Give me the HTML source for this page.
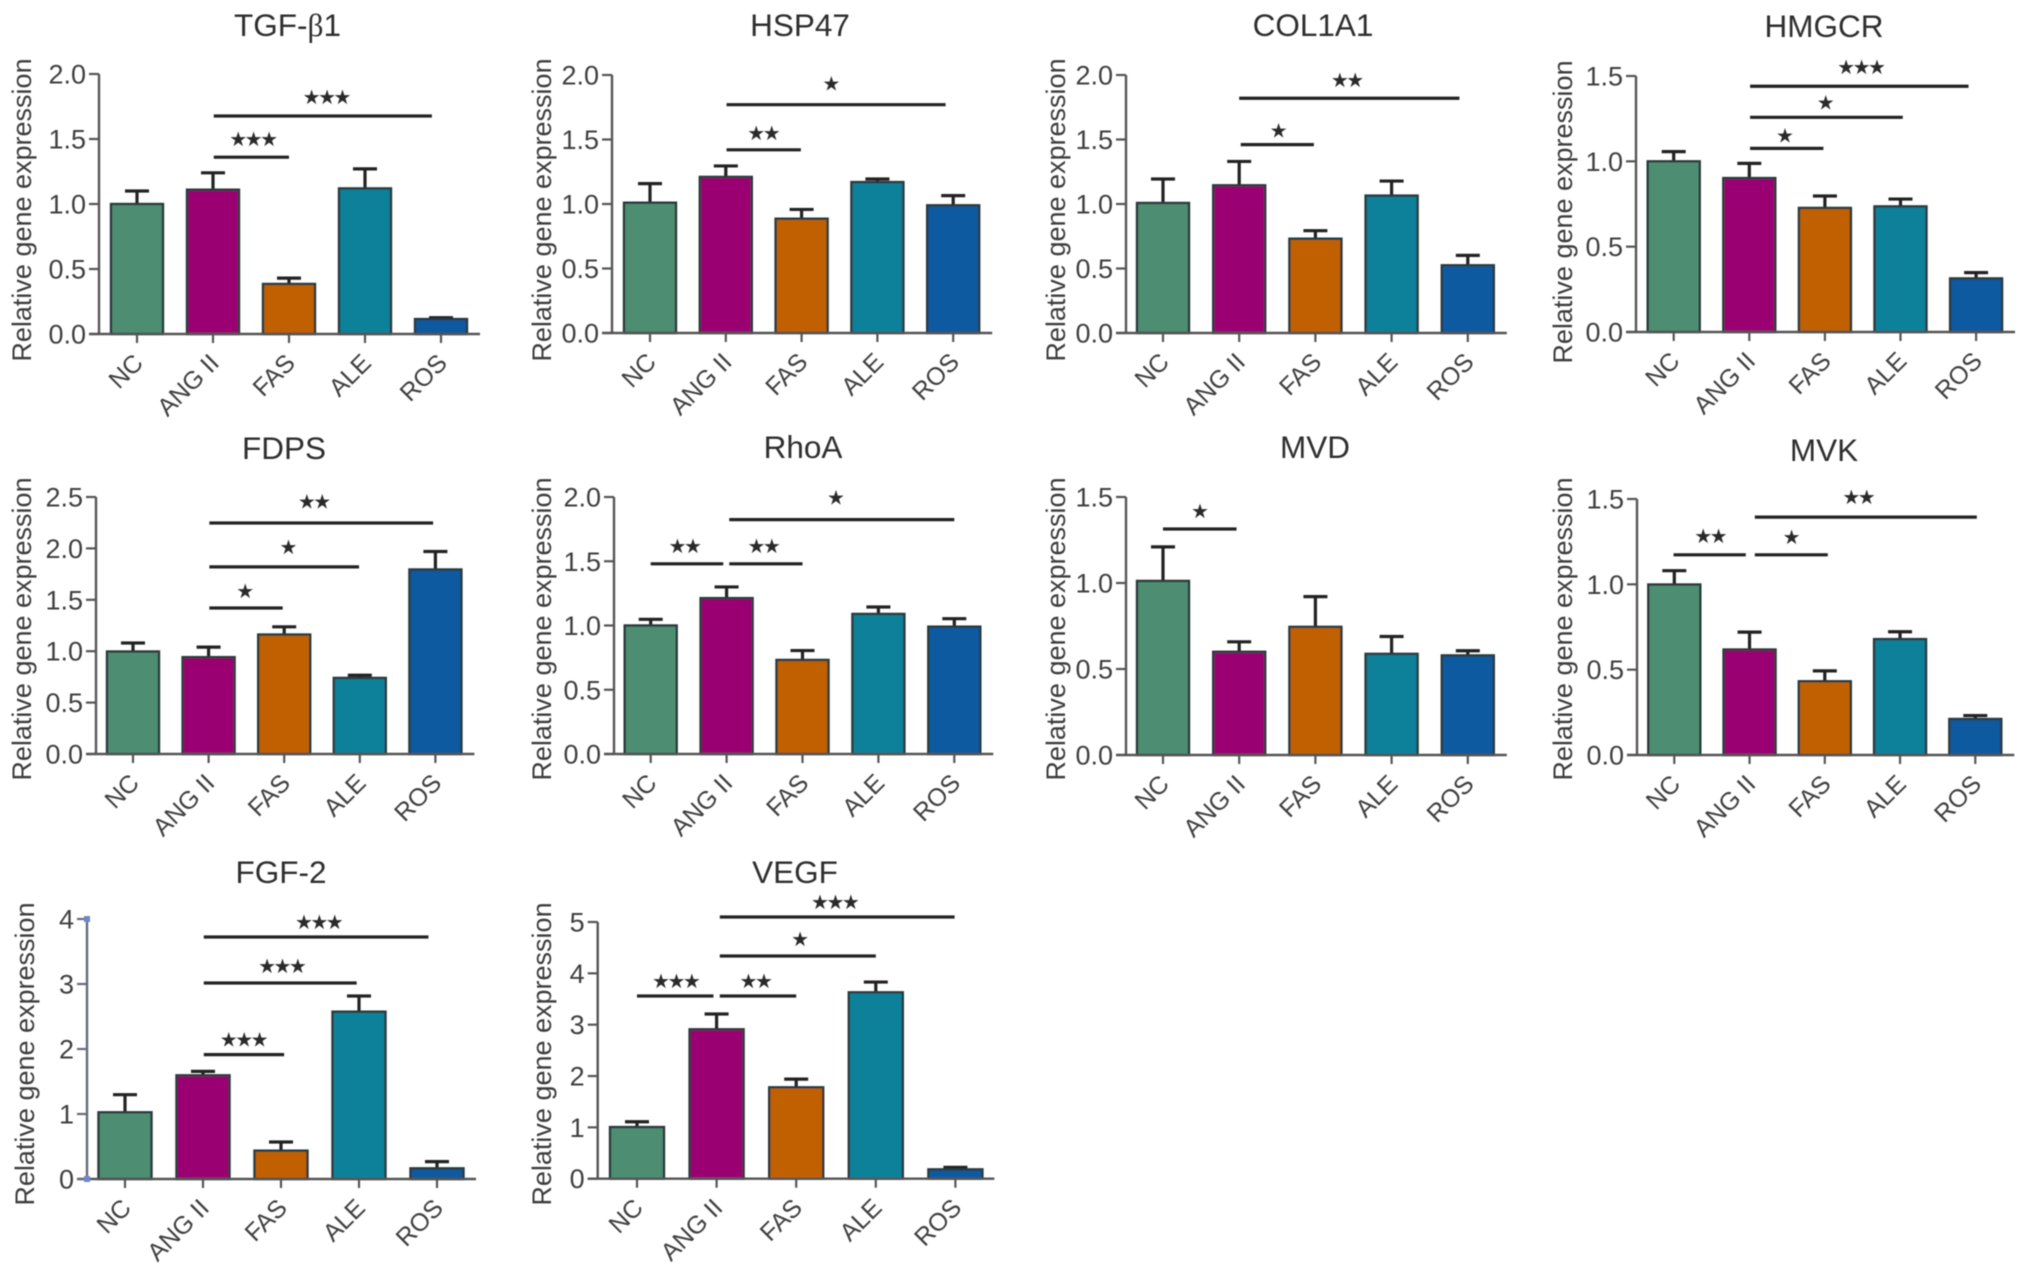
<!DOCTYPE html>
<html lang="en">
<head>
<meta charset="utf-8">
<title>Relative gene expression panels</title>
<style>
html,body{margin:0;padding:0;background:#fff;}
svg{display:block;}
text{font-family:"Liberation Sans",Arial,sans-serif;}
</style>
</head>
<body>
<svg id="figure" xmlns="http://www.w3.org/2000/svg" width="2031" height="1274" viewBox="0 0 2031 1274">
<defs><filter id="soft" x="0" y="0" width="100%" height="100%"><feGaussianBlur stdDeviation="0.55"/></filter></defs>
<rect x="0" y="0" width="2031" height="1274" fill="#fff"/>
<g id="root" filter="url(#soft)"></g>
</svg>
<script>
const categories = ['NC', 'ANG II', 'FAS', 'ALE', 'ROS'];
const ticks2 = ['0.0', '0.5', '1.0', '1.5', '2.0'];
const ticks15 = ['0.0', '0.5', '1.0', '1.5'];
const ticks25 = ['0.0', '0.5', '1.0', '1.5', '2.0', '2.5'];
const ticks4 = ['0', '1', '2', '3', '4'];
const ticks5 = ['0', '1', '2', '3', '4', '5'];

const tgfValues = [1.0, 1.11, 0.385, 1.12, 0.115];
const tgfErrors = [1.10, 1.24, 0.43, 1.27, 0.125];
const tgfBrackets = [[1.01, 2.0, 1.36, 3], [1.01, 3.88, 1.677, 3]];

const hspValues = [1.01, 1.21, 0.886, 1.17, 0.99];
const hspErrors = [1.158, 1.295, 0.958, 1.194, 1.065];
const hspBrackets = [[1.01, 1.99, 1.42, 2], [1.01, 3.9, 1.77, 1]];

const colValues = [1.008, 1.145, 0.731, 1.065, 0.525];
const colErrors = [1.194, 1.33, 0.793, 1.178, 0.602];
const colBrackets = [[1.02, 1.98, 1.46, 1], [1.0, 3.89, 1.82, 2]];

const hmgValues = [1.0, 0.902, 0.727, 0.736, 0.314];
const hmgErrors = [1.057, 0.988, 0.797, 0.779, 0.348];
const hmgBrackets = [[1.01, 1.98, 1.076, 1], [1.01, 3.03, 1.258, 1], [1.01, 3.9, 1.44, 3]];

const fdpValues = [0.997, 0.942, 1.162, 0.74, 1.795];
const fdpErrors = [1.08, 1.04, 1.237, 0.766, 1.97];
const fdpBrackets = [[1.01, 1.98, 1.42, 1], [1.01, 2.99, 1.82, 1], [1.01, 3.97, 2.247, 2]];

const rhoValues = [1.0, 1.213, 0.732, 1.09, 0.991];
const rhoErrors = [1.048, 1.30, 0.805, 1.144, 1.053];
const rhoBrackets = [[0, 0.956, 1.48, 2], [1.035, 2.0, 1.48, 2], [1.035, 4.0, 1.824, 1]];

const mvdValues = [1.012, 0.6, 0.745, 0.588, 0.579];
const mvdErrors = [1.21, 0.658, 0.921, 0.689, 0.606];
const mvdBrackets = [[0, 0.965, 1.314, 1]];

const mvkValues = [0.999, 0.618, 0.432, 0.679, 0.211];
const mvkErrors = [1.08, 0.72, 0.493, 0.722, 0.231];
const mvkBrackets = [[-0.01, 0.95, 1.173, 2], [1.07, 2.04, 1.173, 1], [1.07, 4.02, 1.394, 2]];

const fgfValues = [1.026, 1.595, 0.436, 2.574, 0.164];
const fgfErrors = [1.297, 1.656, 0.569, 2.815, 0.267];
const fgfBrackets = [[1.01, 2.04, 1.913, 3], [1.01, 2.97, 3.015, 3], [1.01, 3.89, 3.723, 3]];

const vegValues = [1.006, 2.91, 1.78, 3.63, 0.182];
const vegErrors = [1.11, 3.208, 1.94, 3.83, 0.22];
const vegBrackets = [[0, 0.96, 3.558, 3], [1.04, 2.0, 3.558, 2], [1.04, 3.0, 4.338, 1], [1.04, 3.99, 5.097, 3]];

const barColors = ['#4e8e73', '#9b0072', '#c06000', '#07809a', '#0a5aa0'];
const NS = 'http://www.w3.org/2000/svg';

const panels = [
  {title:'TGF-β1', values:tgfValues, errors:tgfErrors, brackets:tgfBrackets, ticks:ticks2, axisX:99, top:74, bottom:334, x0:137, step:76, barW:52, titleX:287.5, titleY:36, yTitleX:31, yTitleY:210, nudge:[[2,18],[4,19]]},
  {title:'HSP47', values:hspValues, errors:hspErrors, brackets:hspBrackets, ticks:ticks2, axisX:612, top:75, bottom:333, x0:650, step:75.8, barW:52, titleX:800, titleY:36, yTitleX:551, yTitleY:210, nudge:[[0,17],[-5,21]]},
  {title:'COL1A1', values:colValues, errors:colErrors, brackets:colBrackets, ticks:ticks2, axisX:1126, top:75, bottom:333, x0:1163, step:76.2, barW:52, titleX:1313, titleY:36, yTitleX:1065, yTitleY:210, nudge:[[1,14],[-2,18]]},
  {title:'HMGCR', values:hmgValues, errors:hmgErrors, brackets:hmgBrackets, ticks:ticks15, axisX:1636, top:76, bottom:332, x0:1673.7, step:75.6, barW:52, titleX:1824, titleY:37, yTitleX:1572, yTitleY:212, nudge:[[-2,13],[-1,15],[2,19]]},
  {title:'FDPS', values:fdpValues, errors:fdpErrors, brackets:fdpBrackets, ticks:ticks25, axisX:96, top:497, bottom:754, x0:133, step:75.6, barW:52, titleX:284, titleY:459, yTitleX:31, yTitleY:629, nudge:[[-1,17],[4,20],[-7,21.7]]},
  {title:'RhoA', values:rhoValues, errors:rhoErrors, brackets:rhoBrackets, ticks:ticks2, axisX:614, top:497, bottom:754, x0:650.7, step:75.9, barW:52, titleX:803, titleY:458, yTitleX:551, yTitleY:629, nudge:[[-2,18],[-2,18],[-6,22]]},
  {title:'MVD', values:mvdValues, errors:mvdErrors, brackets:mvdBrackets, ticks:ticks15, axisX:1126, top:497, bottom:755, x0:1163, step:76.2, barW:52, titleX:1315, titleY:458, yTitleX:1065, yTitleY:629, nudge:[[0,18]]},
  {title:'MVK', values:mvkValues, errors:mvkErrors, brackets:mvkBrackets, ticks:ticks15, axisX:1637, top:499, bottom:755, x0:1674.3, step:75.25, barW:52, titleX:1824, titleY:461, yTitleX:1572, yTitleY:629, nudge:[[1,19],[0,18],[-7,20]]},
  {title:'FGF-2', values:fgfValues, errors:fgfErrors, brackets:fgfBrackets, ticks:ticks4, axisX:87, top:919, bottom:1179, x0:125, step:78, barW:53, titleX:281, titleY:883, yTitleX:34, yTitleY:1054, nudge:[[0,15],[2,17],[3,15]], blueAxis:true},
  {title:'VEGF', values:vegValues, errors:vegErrors, brackets:vegBrackets, ticks:ticks5, axisX:597.7, top:922, bottom:1178.7, x0:637, step:79.6, barW:54, titleX:795, titleY:883, yTitleX:551, yTitleY:1054, nudge:[[1,15],[-2,15],[2,17],[-2,15]]}
];

function svgEl(tag, parent) {
  const el = document.createElementNS(NS, tag);
  parent.appendChild(el);
  return el;
}
function setAttrs(el, attrs) {
  for (const k in attrs) el.setAttribute(k, attrs[k]);
}

function drawPanel(p, root) {
  const maxTick = parseFloat(p.ticks[p.ticks.length - 1]);
  const yScale = v => p.bottom - (v / maxTick) * (p.bottom - p.top);
  const xScale = i => p.x0 + i * p.step;
  const axisColor = p.blueAxis ? '#666a7c' : '#555555';

  const g = svgEl('g', root);
  
  

  const title = svgEl('text', g);
  
  
  setAttrs(title, {x:p.titleX, y:p.titleY, 'text-anchor':'middle', 'font-size':31.5, fill:'#2e2e2e'});
  const parts = p.title.split('β');
  title.appendChild(document.createTextNode(parts[0]));
  if (parts.length > 1) {
    const beta = svgEl('tspan', title);
    
    
    beta.setAttribute('style', 'font-family:"Liberation Serif",serif');
    beta.textContent = 'β';
    title.appendChild(document.createTextNode(parts[1]));
  }

  const yTitle = svgEl('text', g);
  
  
  setAttrs(yTitle, {'text-anchor':'middle', 'font-size':27, fill:'#3e3e3e',
    transform:'translate(' + p.yTitleX + ',' + p.yTitleY + ') rotate(-90)'});
  yTitle.textContent = 'Relative gene expression';

  p.values.forEach((v, i) => {
    const cx = xScale(i);
    const err = svgEl('path', g);
    
    
    setAttrs(err, {d:'M' + cx + ' ' + yScale(v) + 'V' + yScale(p.errors[i]) + 'M' + (cx - 12) + ' ' + yScale(p.errors[i]) + 'H' + (cx + 12),
      stroke:'#222', 'stroke-width':3.2, fill:'none'});
    const bar = svgEl('rect', g);
    
    
    setAttrs(bar, {x:cx - p.barW / 2, y:yScale(v), width:p.barW, height:p.bottom - yScale(v),
      fill:barColors[i], stroke:'#2c3a3c', 'stroke-width':2.4});
  });

  const yAxis = svgEl('line', g);
  
  
  setAttrs(yAxis, {x1:p.axisX, x2:p.axisX, y1:p.top, y2:p.bottom, stroke:axisColor, 'stroke-width':2.4});

  const xAxis = svgEl('line', g);
  
  
  setAttrs(xAxis, {x1:p.axisX - 10, x2:xScale(4) + 39, y1:p.bottom, y2:p.bottom, stroke:'#555', 'stroke-width':2.4});

  p.ticks.forEach(label => {
    const y = yScale(parseFloat(label));
    const tick = svgEl('line', g);
    
    
    setAttrs(tick, {x1:p.axisX - 10, x2:p.axisX, y1:y, y2:y, stroke:axisColor, 'stroke-width':2.2});
    const text = svgEl('text', g);
    
    
    setAttrs(text, {x:p.axisX - 13, y:y + 9.5, 'text-anchor':'end', 'font-size':27, fill:'#404040'});
    text.textContent = label;
  });

  if (p.blueAxis) {
    [p.top, p.bottom].forEach(y => {
      const dot = svgEl('rect', g);
      
      
      setAttrs(dot, {x:p.axisX - 3, y:y - 3, width:6, height:6, fill:'#6f86c8'});
    });
  }

  categories.forEach((name, i) => {
    const cx = xScale(i);
    const tick = svgEl('line', g);
    
    
    setAttrs(tick, {x1:cx, x2:cx, y1:p.bottom, y2:p.bottom + 9, stroke:'#555', 'stroke-width':2.2});
    const text = svgEl('text', g);
    
    
    setAttrs(text, {'text-anchor':'end', 'font-size':25, fill:'#404040',
      transform:'translate(' + (cx + 7.5) + ',' + (p.bottom + 30.5) + ') rotate(-45)'});
    text.textContent = name;
  });

  p.brackets.forEach((b, i) => {
    const y = yScale(b[2]);
    const x1 = xScale(b[0]);
    const x2 = xScale(b[1]);
    const line = svgEl('line', g);
    
    
    setAttrs(line, {x1:x1, x2:x2, y1:y, y2:y, stroke:'#222', 'stroke-width':3.2});
    const stars = svgEl('text', g);
    
    
    setAttrs(stars, {x:(x1 + x2) / 2 + p.nudge[i][0] - 1, y:y - p.nudge[i][1] + 7, 'text-anchor':'middle', 'font-size':20, 'letter-spacing':-2.5, fill:'#2a2a2a',
      style:'font-family:"DejaVu Sans",sans-serif'});
    stars.textContent = '★'.repeat(b[3]);
  });
}

const rootGroup = document.getElementById('root');
panels.forEach(p => drawPanel(p, rootGroup));
</script>
</body>
</html>
